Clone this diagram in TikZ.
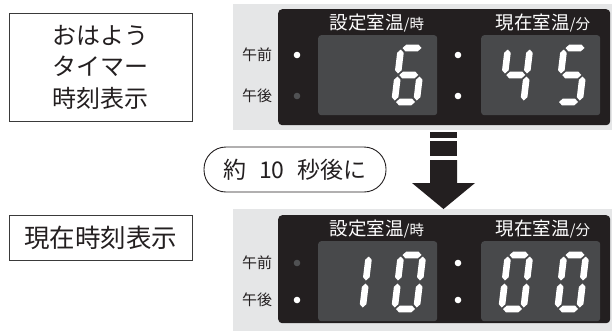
\documentclass[tikz,border=0pt]{standalone}
\usepackage{fontspec}
\setmainfont{Noto Sans CJK JP}
\usetikzlibrary{positioning}
\definecolor{ink}{HTML}{231F20}
\definecolor{panelgray}{HTML}{E5E6E7}
\definecolor{lcdgray}{HTML}{48494B}
\definecolor{dimdot}{HTML}{505153}
\definecolor{framegray}{HTML}{3A3A3A}
\tikzset{
  caption/.style={draw=framegray,line width=0.9pt,fill=white,font=\fontsize{24}{31.5}\selectfont,text=ink,align=center,inner sep=0pt},
  pill/.style={draw=ink,line width=0.9pt,rounded corners=22pt,fill=white,font=\fontsize{23}{26}\selectfont,text=ink,inner sep=0pt},
  backpanel/.style={fill=panelgray,inner sep=0pt,anchor=north west},
  darkpanel/.style={fill=ink,rounded corners=4pt,inner sep=0pt,anchor=north west},
  lcd/.style={fill=lcdgray,rounded corners=3pt,inner sep=0pt,anchor=north west,minimum width=119pt},
  head/.style={font=\fontsize{18.5}{20}\selectfont,text=white,inner sep=0pt},
  ampm/.style={font=\fontsize{15}{18}\selectfont,text=ink,inner sep=0pt},
  lampon/.style={circle,fill=white,minimum size=6.6pt,inner sep=0pt},
  lampoff/.style={circle,fill=dimdot,minimum size=6.6pt,inner sep=0pt},
  segon/.style={fill=white},
  bigarrow/.style={fill=ink}
}
% one segment of a seven-segment digit
\newcommand{\hseg}[2]{\fill[segon] (#1+1.5,#2) -- ++(3.3,-3.3) -- ++(12.4,0) -- ++(3.3,3.3) -- ++(-3.3,3.3) -- ++(-12.4,0) -- cycle;}
\newcommand{\vseg}[2]{\fill[segon] (#1,#2+1.5) -- ++(3.3,3.3) -- ++(0,17.4) -- ++(-3.3,3.3) -- ++(-3.3,-3.3) -- ++(0,-17.4) -- cycle;}
\newcommand{\dsega}{\hseg{0}{0}}
\newcommand{\dsegb}{\vseg{22}{0}}
\newcommand{\dsegc}{\vseg{22}{27}}
\newcommand{\dsegd}{\hseg{0}{54}}
\newcommand{\dsege}{\vseg{0}{27}}
\newcommand{\dsegf}{\vseg{0}{0}}
\newcommand{\dsegg}{\hseg{0}{27}}
\newcommand{\segdigit}[3]{\begin{scope}[shift={(#1,#2)},xslant=0.12]
  \foreach \s in {#3} {\csname dseg\s\endcsname}
\end{scope}}

\begin{document}
\begin{tikzpicture}[x=1pt,y=-1pt]
\path[use as bounding box] (0,0) rectangle (612,330);
% captions
\node[caption,minimum width=183pt,minimum height=108pt] (wake) at (100.5,67) {おはよう\\タイマー\\時刻表示};
\node[caption,minimum width=183pt,minimum height=45pt,font=\fontsize{25.5}{28}\selectfont] (now) at (100.5,237.5) {現在時刻表示};
\node[pill,minimum width=182pt,minimum height=45pt] (wait) at (295,169.5) {約\hspace{13pt}10\hspace{13pt}秒後に};

\foreach \y/\dy/\dh/\ly in {3.3/9/116/top,209/215/108/bot}{
\node[backpanel,minimum width=380pt,minimum height=126.7pt] (back\ly) at (232.7,\y) {};
\node[darkpanel,minimum width=332pt,minimum height=\dh pt] (dark\ly) at (278,\dy) {};
\node[lcd,minimum height=80pt] (hr\ly) at (318,\dy+26) {};
\node[lcd,minimum height=80pt] (mn\ly) at (481,\dy+26) {};
\node[head] (hrlab\ly) at (377,\dy+14.5) {設定室温{\fontsize{14.5}{16}\selectfont/時}};
\node[head] (mnlab\ly) at (543,\dy+14.5) {現在室温{\fontsize{14.5}{16}\selectfont/分}};
}
% top display 6:45, am
\node[ampm] (amtop) at (257,55) {午前}; \node[ampm] (pmtop) at (257,96) {午後};
\node[lampon] (amlamptop) at (297,55) {}; \node[lampoff] (pmlamptop) at (297,96) {};
\node[lampon] (coltopa) at (458,55) {}; \node[lampon] (coltopb) at (458,96) {};
\segdigit{401}{48}{a,c,d,e,f,g}
\segdigit{508}{48}{b,c,f,g}
\segdigit{564}{48}{a,c,d,f,g}
% bottom display 10:00, pm
\node[ampm] (ambot) at (257,263) {午前}; \node[ampm] (pmbot) at (257,300) {午後};
\node[lampoff] (amlampbot) at (297,263) {}; \node[lampon] (pmlampbot) at (297,300) {};
\node[lampon] (colbota) at (458,263) {}; \node[lampon] (colbotb) at (458,300) {};
\segdigit{347}{255}{b,c}
\segdigit{401}{255}{a,b,c,d,e,f}
\segdigit{508}{255}{a,b,c,d,e,f}
\segdigit{564}{255}{a,b,c,d,e,f}
% arrow
\fill[bigarrow] (430,132) rectangle (457,137.5);
\fill[bigarrow] (430,141) rectangle (457,156);
\fill[bigarrow] (430,160) -- (457,160) -- (457,183) -- (475,183) -- (443.5,209) -- (412,183) -- (430,183) -- cycle;
\end{tikzpicture}
\end{document}
